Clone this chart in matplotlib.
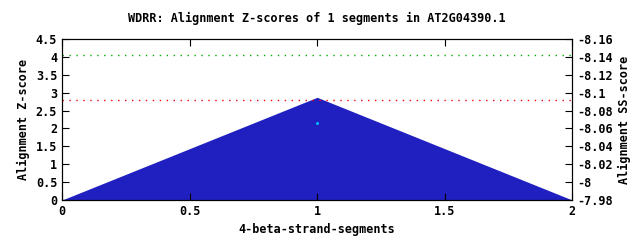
import matplotlib
matplotlib.use('Agg')
import matplotlib.pyplot as plt

# segment positions and z-scores
segments = [0, 1, 2]
zscores = [0.0, 2.87, 0.0]
ss_pos = [1]
ss_scores = [-8.066]
green_level = 4.05
red_level = 2.79

plt.rcParams['font.family'] = ['DejaVu Sans Mono']
plt.rcParams['font.weight'] = 'bold'
plt.rcParams['axes.labelweight'] = 'bold'
plt.rcParams['axes.titleweight'] = 'bold'
plt.rcParams['font.size'] = 8.5

fig = plt.figure(figsize=(6.4, 2.4), dpi=100)
ax = fig.add_axes([0.097, 0.1667, 0.797, 0.6708])

ax.fill_between(segments, zscores, 0, color='#2020c0', linewidth=0)
ax.axhline(green_level, color='#00b000', linestyle=(0, (1, 4)), linewidth=1)
ax.axhline(red_level, color='#ff0000', linestyle=(0, (1, 4)), linewidth=1)

ax.set_xlim(0, 2)
ax.set_ylim(0, 4.5)
ax.set_xticks([0, 0.5, 1, 1.5, 2])
ax.set_xticklabels(['0', '0.5', '1', '1.5', '2'])
ax.set_yticks([0, 0.5, 1, 1.5, 2, 2.5, 3, 3.5, 4, 4.5])
ax.set_yticklabels(['0', '0.5', '1', '1.5', '2', '2.5', '3', '3.5', '4', '4.5'])
ax.tick_params(direction='in', length=5, top=True, right=False)
ax.set_xlabel('4-beta-strand-segments')
ax.set_ylabel('Alignment Z-score')
ax.set_title('WDRR: Alignment Z-scores of 1 segments in AT2G04390.1', fontsize=8.5, pad=12)

ax2 = ax.twinx()
ax2.set_ylim(-7.98, -8.16)
ax2.plot(ss_pos, ss_scores, 's', color='#00c0ff', markersize=1)
ax2.set_yticks([-7.98, -8, -8.02, -8.04, -8.06, -8.08, -8.1, -8.12, -8.14, -8.16])
ax2.set_yticklabels(['-7.98', '-8', '-8.02', '-8.04', '-8.06', '-8.08', '-8.1', '-8.12', '-8.14', '-8.16'])
ax2.tick_params(direction='in', length=5)
ax2.set_ylabel('Alignment SS-score')

fig.savefig('out.png', dpi=100)
